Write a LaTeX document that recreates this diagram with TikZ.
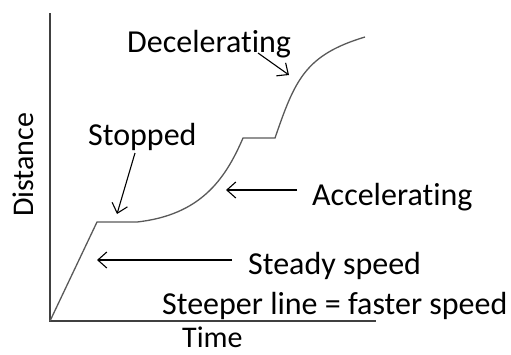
\documentclass[tikz,border=0pt]{standalone}
\usepackage{fontspec}
\setmainfont{Carlito}[Ligatures=NoCommon]
\usetikzlibrary{arrows.meta}
\begin{document}
\begin{tikzpicture}[x=1pt,y=-1pt,
        axis/.style={line width=1.6pt, color=black!75},
        curve/.style={line width=1.3pt, color=black!65},
        pointer/.style={line width=1.1pt, -{Straight Barb[length=9pt,width=16pt]}},
        lbl/.style={inner sep=0pt, font=\fontsize{32}{38}\selectfont},
        axlbl/.style={inner sep=0pt, text depth=0pt, font=\fontsize{30}{36}\selectfont}]
        \useasboundingbox (0,0) rectangle (511,354);

        %draw the axes
        \draw[axis] (50,13) -- (50,321) -- (376,321);
        \node[axlbl, anchor=base west] (time) at (182,347) {Time};
        \node[axlbl, anchor=base west, rotate=90] (dist) at (33,217) {Distance};

        %distance against time
        \coordinate (o) at (50,321);
        \coordinate (s1) at (97,222);
        \coordinate (s2) at (137,222);
        \coordinate (s3) at (243,138);
        \coordinate (s4) at (275,138);
        \coordinate (e) at (365,37);
        \draw[curve] (o) -- (s1) -- (s2) .. controls (200,215) and (225,180) .. (s3)
            -- (s4) .. controls (295,80) and (305,55) .. (e);

        %labels
        \node[lbl, anchor=base west] (dec) at (127,52) {Decelerating};
        \node[lbl, anchor=base west] (stop) at (88,145) {Stopped};
        \node[lbl, anchor=base west] (acc) at (312,205) {Accelerating};
        \node[lbl, anchor=base west] (steady) at (248,274) {Steady speed};
        \node[lbl, anchor=base west] (steep) at (162,314) {Steeper line = faster speed};

        %arrows to the curve
        \coordinate (decT) at (258,53);
        \coordinate (decH) at (289,75);
        \coordinate (stopT) at (135,153);
        \coordinate (stopH) at (117,214);
        \coordinate (accT) at (297,190);
        \coordinate (accH) at (226,190);
        \coordinate (steadyT) at (232,260);
        \coordinate (steadyH) at (97,260);
        \draw[pointer] (decT) -- (decH);
        \draw[pointer] (stopT) -- (stopH);
        \draw[pointer] (accT) -- (accH);
        \draw[pointer] (steadyT) -- (steadyH);

\end{tikzpicture}
\end{document}
